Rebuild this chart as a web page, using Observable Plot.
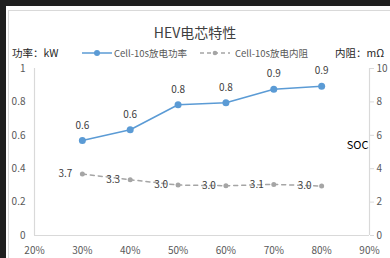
<!DOCTYPE html>
<html>
<head>
<meta charset="utf-8">
<script src="https://cdn.jsdelivr.net/npm/d3@7"></script>
<script src="https://cdn.jsdelivr.net/npm/@observablehq/plot@0.6"></script>
<style>
  html, body { margin: 0; padding: 0; }
  body { width: 390px; height: 258px; background: #1f1f1f; position: relative; overflow: hidden;
         font-family: "Noto Sans CJK SC", "Noto Sans", sans-serif; }
  #panel { position: absolute; left: 6px; top: 6px; width: 384px; height: 252px; background: #fff; }
  #frame { position: absolute; left: 8px; top: 10px; width: 400px; height: 270px; border: 1px solid #d9d9d9; box-sizing: border-box; }
  .abs { position: absolute; white-space: nowrap; line-height: 1; }
  #title { left: 0; width: 390px; top: 25px; text-align: center; font-size: 14px; color: #404040; }
  .axt { font-size: 10.5px; color: #262626; top: 48px; }
  .leg { font-size: 9.5px; color: #595959; top: 48.5px; }
  #chart { position: absolute; left: 0; top: 50px; }
</style>
</head>
<body>
<div id="panel"></div>
<div id="frame"></div>
<div id="chart"></div>
<div id="title" class="abs">HEV电芯特性</div>
<div class="abs axt" style="left:12px">功率：kW</div>
<svg class="abs" style="left:82px;top:49px" width="30" height="8"><line x1="0" y1="4" x2="30" y2="4" stroke="#5B9BD5" stroke-width="1.5"/><circle cx="15" cy="4" r="3" fill="#5B9BD5"/></svg>
<div class="abs leg" style="left:114px">Cell-10s放电功率</div>
<svg class="abs" style="left:200px;top:49px" width="30" height="8"><line x1="0" y1="4" x2="30" y2="4" stroke="#A5A5A5" stroke-width="1.5" stroke-dasharray="4,3"/><circle cx="15" cy="4" r="2.3" fill="#A5A5A5"/></svg>
<div class="abs leg" style="left:235px">Cell-10s放电内阻</div>
<div class="abs axt" style="left:335px">内阻：mΩ</div>
<script>
const soc = [0.3, 0.4, 0.5, 0.6, 0.7, 0.8];
const power = [0.569, 0.633, 0.783, 0.795, 0.876, 0.894];      // kW
const resistance = [3.68, 3.34, 3.02, 2.98, 3.06, 2.96];        // mΩ
const xTicks = [0.2, 0.3, 0.4, 0.5, 0.6, 0.7, 0.8, 0.9];
const leftTicks = [0, 0.2, 0.4, 0.6, 0.8, 1];
const rightTicks = [0, 2, 4, 6, 8, 10];
const rightMax = 10;

const pData = soc.map((s, i) => ({soc: s, v: power[i]}));
const rData = soc.map((s, i) => ({soc: s, v: resistance[i] / rightMax, raw: resistance[i]}));

const blue = "#5B9BD5", gray = "#A5A5A5", axisCol = "#d9d9d9", tickCol = "#595959";

const plot = Plot.plot({
  width: 390,
  height: 208,
  marginLeft: 34,
  marginRight: 21,
  marginTop: 18,
  marginBottom: 23,
  style: {fontFamily: "'Noto Sans CJK SC', 'Noto Sans', sans-serif", fontSize: "10px", color: tickCol, background: "transparent"},
  x: {domain: [0.2, 0.9]},
  y: {domain: [0, 1]},
  marks: [
    Plot.ruleY([0], {stroke: axisCol, strokeWidth: 1.2}),
    Plot.ruleX([0.2, 0.9], {stroke: axisCol, strokeWidth: 1.2}),
    Plot.axisX({ticks: xTicks, tickFormat: d3.format(".0%"), tickSize: 0, tickPadding: 11, label: null, fill: tickCol}),
    Plot.axisY({ticks: leftTicks, tickFormat: d => String(+d.toFixed(1)), tickSize: 0, tickPadding: 9, label: null, fill: tickCol}),
    Plot.axisY({anchor: "right", ticks: rightTicks.map(t => t / rightMax), tickFormat: d => String(Math.round(d * rightMax)), tickSize: 4, tickPadding: 3, stroke: axisCol, label: null, fill: tickCol}),
    Plot.line(rData, {x: "soc", y: "v", stroke: gray, strokeWidth: 1.5, strokeDasharray: "4,4"}),
    Plot.dot(rData, {x: "soc", y: "v", r: 2.5, fill: gray}),
    Plot.text(rData, {x: "soc", y: "v", text: d => d.raw.toFixed(1), dx: -17, fill: "#404040", fontSize: 10}),
    Plot.line(pData, {x: "soc", y: "v", stroke: blue, strokeWidth: 1.5}),
    Plot.dot(pData, {x: "soc", y: "v", r: 3.5, fill: blue}),
    Plot.text(pData, {x: "soc", y: "v", text: d => d.v.toFixed(1), dy: -15, fill: "#404040", fontSize: 10}),
    Plot.text(["SOC"], {frameAnchor: "right", text: d => d, textAnchor: "end", dx: -1, dy: -7, fill: "#000", fontSize: 11})
  ]
});
document.getElementById("chart").appendChild(plot);
</script>
</body>
</html>
